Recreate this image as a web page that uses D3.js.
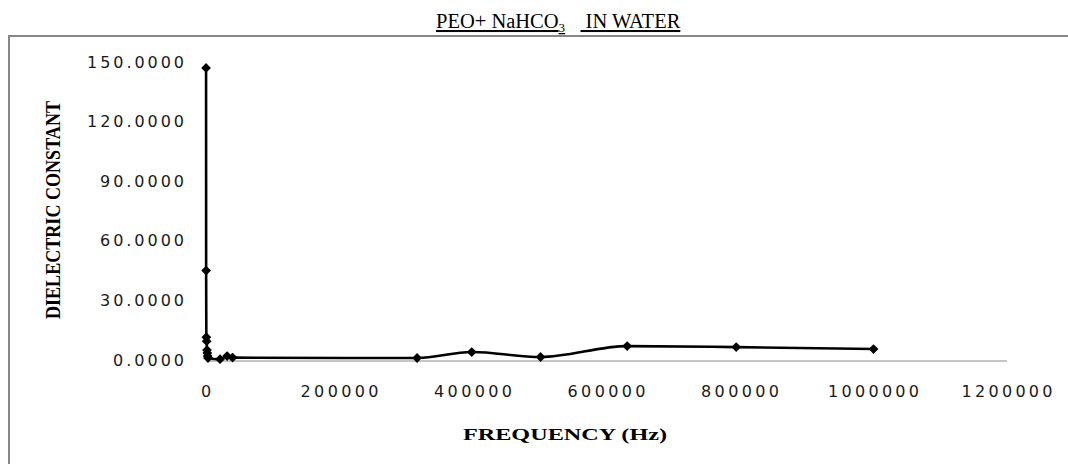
<!DOCTYPE html>
<html><head><meta charset="utf-8">
<script src="https://cdn.jsdelivr.net/npm/d3@7"></script>
<style>body{margin:0;background:#fff;}svg{display:block;}</style>
</head><body>
<script>
// Data
const frequency = [100, 200, 500, 1000, 1500, 2000, 2500, 3000, 21000, 31623, 39811, 316228, 398107, 501187, 630957, 794328, 1000000];
const dielectric = [147, 45, 11.5, 9.5, 5, 3.5, 2, 1, 0.4, 2.0, 1.2, 1.0, 4.0, 1.5, 7.0, 6.5, 5.5];
const xTicks = [0, 200000, 400000, 600000, 800000, 1000000, 1200000];
const yTicks = [0, 30, 60, 90, 120, 150];
const titleMain = "PEO+ NaHCO";
const titleSub = "3";
const titleRest = "IN WATER";
const xTitle = "FREQUENCY  (Hz)";
const yTitle = "DIELECTRIC CONSTANT";

const W = 1068, H = 464;
const svg = d3.select("body").append("svg").attr("width", W).attr("height", H);

// outer border
svg.append("path").attr("d", `M9,${H+5} L9,36 L${W+5},36`).attr("fill","none").attr("stroke","#878787").attr("stroke-width",2);

const x = d3.scaleLinear().domain([0, 1200000]).range([206, 1007]);
const y = d3.scaleLinear().domain([0, 150]).range([360, 62]);

// title
const t = svg.append("text").attr("x", 436).attr("y", 28)
  .attr("font-family","Liberation Serif").attr("font-size",20.5).attr("fill","#000");
t.append("tspan").text(titleMain).attr("text-decoration","underline");
t.append("tspan").text(titleSub).attr("font-size",13).attr("dy",4).attr("text-decoration","underline");
t.append("tspan").text("\u00a0\u00a0\u00a0").attr("dy",-4);
t.append("tspan").text("\u00a0" + titleRest).attr("text-decoration","underline");

// x axis line
svg.append("line").attr("x1", x(0)).attr("x2", x(1200000)).attr("y1", 361).attr("y2", 361)
  .attr("stroke","#8c8c8c").attr("stroke-width",1.2);

function labelWidth(s){ let w=0; for (const c of s) w += (c==='.')?6:13; return w; }

// x tick labels
svg.append("g").selectAll("text").data(xTicks).join("text")
  .attr("x", d => x(d)).attr("y", 397).attr("text-anchor","middle")
  .attr("font-family","DejaVu Sans").attr("font-size",16).attr("fill","#1a1a1a")
  .attr("textLength", d => labelWidth(String(d))).attr("lengthAdjust","spacing")
  .text(d => String(d));

// y tick labels
svg.append("g").selectAll("text").data(yTicks).join("text")
  .attr("x", 184).attr("y", d => y(d) + 5.5).attr("text-anchor","end")
  .attr("font-family","DejaVu Sans").attr("font-size",16).attr("fill","#1a1a1a")
  .attr("textLength", d => labelWidth(d.toFixed(4))).attr("lengthAdjust","spacing")
  .text(d => d.toFixed(4));

// axis titles
svg.append("text").attr("x", 565).attr("y", 440).attr("text-anchor","middle")
  .attr("font-family","Liberation Serif").attr("font-weight","bold").attr("font-size",17)
  .attr("textLength",204).attr("lengthAdjust","spacingAndGlyphs").text(xTitle);
svg.append("text").attr("transform","translate(60,210) rotate(-90)").attr("text-anchor","middle")
  .attr("font-family","Liberation Serif").attr("font-weight","bold").attr("font-size",21)
  .attr("textLength",218).attr("lengthAdjust","spacingAndGlyphs").text(yTitle);

// data line
const pts = frequency.map((f,i) => [f, dielectric[i]]);
svg.append("path").datum(pts)
  .attr("d", d3.line().x(d => x(d[0])).y(d => y(d[1])).curve(d3.curveMonotoneX))
  .attr("fill","none").attr("stroke","#000").attr("stroke-width",2.6);

// markers (rotated squares)
svg.append("g").selectAll("path").data(pts).join("path")
  .attr("transform", d => `translate(${x(d[0])},${y(d[1])}) rotate(45)`)
  .attr("d", d3.symbol().type(d3.symbolSquare).size(48))
  .attr("fill","#000");
</script>
</body></html>
